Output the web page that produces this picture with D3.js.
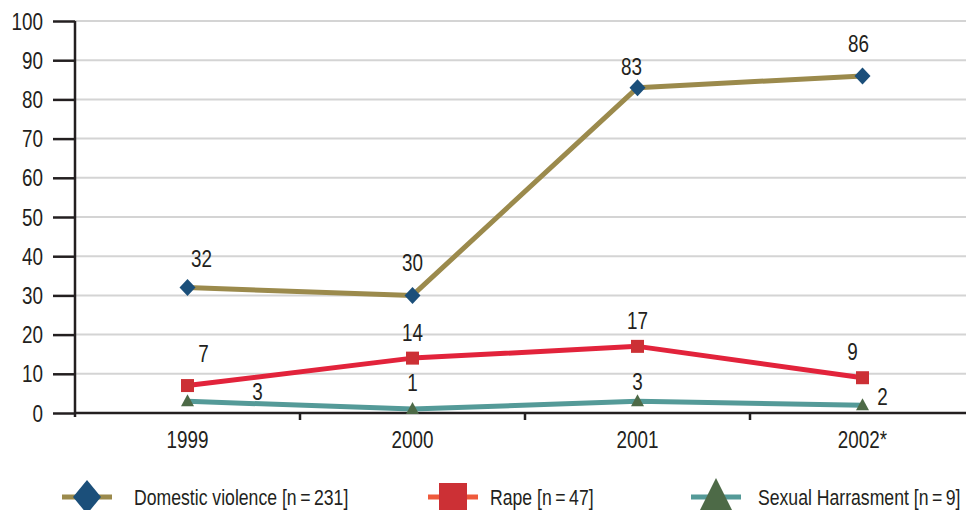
<!DOCTYPE html>
<html>
<head>
<meta charset="utf-8">
<script src="https://cdn.jsdelivr.net/npm/d3@7"></script>
<style>
  html, body { margin: 0; padding: 0; background: #fff; }
  svg text { font-family: "Liberation Sans", Arial, sans-serif; fill: #231f20; }
</style>
</head>
<body>
<svg id="chart" width="966" height="510"></svg>
<script>
// Reported cases by year
const years = ["1999", "2000", "2001", "2002*"];
const domesticViolence = [32, 30, 83, 86];
const rape = [7, 14, 17, 9];
const sexualHarassment = [3, 1, 3, 2];
const yTicks = [0, 10, 20, 30, 40, 50, 60, 70, 80, 90, 100];
const legendLabels = ["Domestic violence [n\u2009=\u2009231]", "Rape [n\u2009=\u200947]", "Sexual Harrasment [n\u2009=\u20099]"];

// Value label offsets (dx, dy) from each point
const labelOffsets = {
  dv: [[14, -29], [0, -32], [-6, -21], [-4, -32]],
  rp: [[16, -32], [0, -25], [0, -25], [-10, -26]],
  sh: [[70, -9], [0, -26], [0, -19], [20, -8]]
};

const NARROW = 0.82;   // horizontal squeeze for a condensed look
const FONT = 23;

const svg = d3.select("#chart");

const x = d3.scaleBand().domain(years).range([75, 975]);
const y = d3.scaleLinear().domain([0, 100]).range([413, 21]);
const cx = d => x(d) + x.bandwidth() / 2;

function narrowText(parent, px, py, str, anchor, size) {
  return parent.append("text")
    .attr("transform", `translate(${px},${py}) scale(${NARROW},1)`)
    .attr("text-anchor", anchor).attr("dy", "0.35em")
    .style("font-size", size + "px")
    .text(str);
}

// Gridlines
svg.append("g").selectAll("line").data(yTicks.filter(t => t > 0)).join("line")
  .attr("x1", 75).attr("x2", 966)
  .attr("y1", d => y(d)).attr("y2", d => y(d))
  .attr("stroke", "#d4d4d4").attr("stroke-width", 2);

// Y axis
const yAxis = svg.append("g").attr("transform", "translate(75,0)")
  .call(d3.axisLeft(y).tickValues(yTicks).tickSize(22).tickPadding(10));
yAxis.select(".domain").attr("stroke", "#231f20").attr("stroke-width", 2.5)
  .attr("d", "M0,21V417");
yAxis.selectAll(".tick line").attr("stroke", "#231f20").attr("stroke-width", 2.5);
yAxis.selectAll(".tick text")
  .style("font-size", FONT + "px")
  .attr("x", -32 / NARROW).attr("dy", "0.35em")
  .attr("transform", `scale(${NARROW},1)`);

// X axis
const xAxis = svg.append("g").attr("transform", "translate(0,413)")
  .call(d3.axisBottom(x).tickSize(0).tickPadding(0));
xAxis.select(".domain").attr("stroke", "#231f20").attr("stroke-width", 2.5).attr("d", "M75,0H966");
xAxis.selectAll(".tick text")
  .style("font-size", FONT + "px")
  .attr("y", 27).attr("dy", "0.35em")
  .attr("transform", `scale(${NARROW},1)`);
svg.append("g").selectAll("line").data(years.slice(1)).join("line")
  .attr("x1", d => x(d)).attr("x2", d => x(d))
  .attr("y1", 413).attr("y2", 420)
  .attr("stroke", "#231f20").attr("stroke-width", 2.5);
d3.selectAll("svg g text").attr("fill", "#231f20");

const line = d3.line().x((d, i) => cx(years[i])).y(d => y(d));

const series = [
  { key: "dv", values: domesticViolence, line: "#9b8a4c", marker: "#1b4f7a" },
  { key: "rp", values: rape, line: "#e2233b", marker: "#cc3035" },
  { key: "sh", values: sexualHarassment, line: "#549a98", marker: "#4d6a47" }
];

function markerPath(key) {
  if (key === "dv") return "M0,-8.5L8,0L0,8.5L-8,0Z";
  if (key === "rp") return "M-6.5,-6.5H6.5V6.5H-6.5Z";
  return "M0,-7L6.5,5H-6.5Z";
}

series.forEach(s => {
  svg.append("path").datum(s.values)
    .attr("d", line).attr("fill", "none")
    .attr("stroke", s.line).attr("stroke-width", 5).attr("stroke-linejoin", "round");
  svg.append("g").selectAll("path").data(s.values).join("path")
    .attr("transform", (d, i) => `translate(${cx(years[i])},${y(d)})`)
    .attr("d", markerPath(s.key))
    .attr("fill", s.marker);
  const lg = svg.append("g");
  s.values.forEach((v, i) => {
    narrowText(lg, cx(years[i]) + labelOffsets[s.key][i][0], y(v) + labelOffsets[s.key][i][1],
      v, "middle", FONT);
  });
});

// Legend
const legendX = [87, 453, 716];
const legendTextX = [134, 490, 758];
const legendLine = ["#9b8a4c", "#ef5a3c", "#549a98"];
const legendShape = ["M0,-17L14,0L0,17L-14,0Z", "M-14,-14H14V14H-14Z", "M0,-19L16,13H-16Z"];
const legendY = 497;
series.forEach((s, i) => {
  const g = svg.append("g").attr("transform", `translate(${legendX[i]},${legendY})`);
  g.append("line").attr("x1", -25).attr("x2", 25).attr("y1", 0).attr("y2", 0)
    .attr("stroke", legendLine[i]).attr("stroke-width", 5);
  g.append("path").attr("d", legendShape[i]).attr("fill", s.marker);
  narrowText(svg, legendTextX[i], legendY, legendLabels[i], "start", 21.5);
});
</script>
</body>
</html>
